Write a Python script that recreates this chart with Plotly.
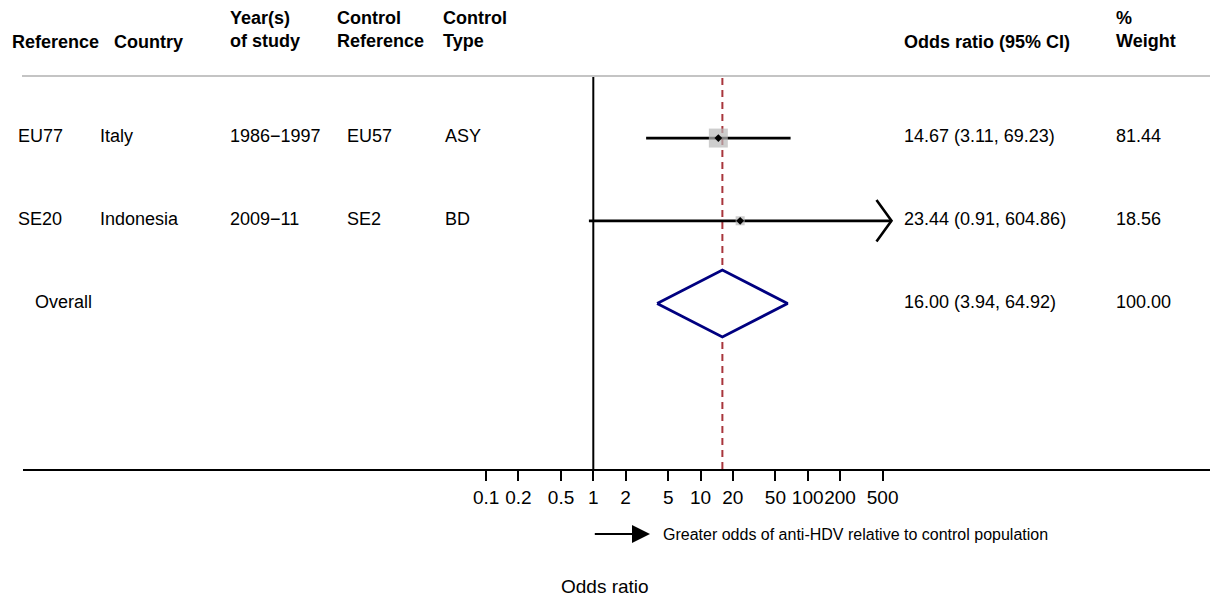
import math
import plotly.graph_objects as go

# ---- study rows ----
refs = ["EU77", "SE20"]
countries = ["Italy", "Indonesia"]
years = ["1986−1997", "2009−11"]
control_refs = ["EU57", "SE2"]
control_types = ["ASY", "BD"]
odds = [14.67, 23.44]
ci_low = [3.11, 0.91]
ci_high = [69.23, 604.86]
weights = [81.44, 18.56]

# ---- pooled estimate ----
overall_label = "Overall"
overall_or = 16.00
overall_low = 3.94
overall_high = 64.92
overall_weight = 100.00

# ---- axis ----
tick_vals = [0.1, 0.2, 0.5, 1, 2, 5, 10, 20, 50, 100, 200, 500]
tick_text = ["0.1", "0.2", "0.5", "1", "2", "5", "10", "20", "50", "100", "200", "500"]
axis_title = "Odds ratio"
direction_note = "Greater odds of anti-HDV relative to control population"

# column headers: (text, left edge in px)
headers = [
    ("Reference", 12), ("Country", 114), ("Year(s)<br>of study", 230),
    ("Control<br>Reference", 337), ("Control<br>Type", 443),
    ("Odds ratio (95% CI)", 904), ("%<br>Weight", 1116),
]

# ---- page geometry ----
W, H = 1210, 598
ML, MR, MT, MB = 23, 0, 76, 129
PX_PER_DECADE = 107.2
X_ONE_PX = 593.3          # where OR = 1 sits
TEXT_PAD = 2              # annotation border + padding
FONT = "Liberation Sans, Arial, Helvetica, sans-serif"
PLOT_W = W - ML - MR
PLOT_H = H - MT - MB


def xp(px):
    return (px - TEXT_PAD - ML) / PLOT_W


def yp(py):
    return (H - MB - py) / PLOT_H


x_range = [-(X_ONE_PX - ML) / PX_PER_DECADE, (W - MR - X_ONE_PX) / PX_PER_DECADE]
y_range = [5.0, 0.25]
rows = list(range(1, len(refs) + 1))
overall_row = len(refs) + 1

fig = go.Figure()

# confidence interval lines
for r, lo, hi in zip(rows, ci_low, ci_high):
    fig.add_trace(go.Scatter(x=[lo, hi], y=[r, r], mode="lines",
                             line=dict(color="black", width=2.8),
                             hoverinfo="skip", showlegend=False))
    # open arrow head when the interval runs past the last tick
    if hi > tick_vals[-1]:
        back = 10 ** (math.log10(hi) - 0.14)
        fig.add_trace(go.Scatter(x=[back, hi, back], y=[r - 0.25, r, r + 0.25],
                                 mode="lines", line=dict(color="black", width=2.6),
                                 hoverinfo="skip", showlegend=False))

# weight boxes
fig.add_trace(go.Scatter(
    x=odds, y=rows, mode="markers",
    marker=dict(symbol="square", color="#b8b8b8",
                size=[21 * math.sqrt(w / 100) for w in weights], line=dict(width=0)),
    hoverinfo="skip", showlegend=False))
# point estimates
fig.add_trace(go.Scatter(
    x=odds, y=rows, mode="markers",
    marker=dict(symbol="diamond", color="black", size=6, line=dict(width=0)),
    hoverinfo="skip", showlegend=False))

# pooled diamond
half_h = 0.405
fig.add_trace(go.Scatter(
    x=[overall_low, overall_or, overall_high, overall_or, overall_low],
    y=[overall_row, overall_row - half_h, overall_row, overall_row + half_h, overall_row],
    mode="lines", fill="toself", fillcolor="white",
    line=dict(color="#000080", width=2.8),
    hoverinfo="skip", showlegend=False))

# reference lines
fig.add_shape(type="line", xref="x", yref="paper", x0=1, x1=1, y0=0, y1=1,
              line=dict(color="black", width=2), layer="below")
fig.add_shape(type="line", xref="x", yref="paper", x0=overall_or, x1=overall_or, y0=0, y1=1,
              line=dict(color="#a8353c", width=2, dash="7px,5px"), layer="below")
fig.add_shape(type="line", xref="paper", yref="paper", x0=(22 - ML) / PLOT_W, x1=1, y0=1, y1=1,
              line=dict(color="#c4c4c4", width=2))

ann = []
# headers
for text, px in headers:
    two = "<br>" in text
    ann.append(dict(text=text, x=xp(px), y=yp(30 if two else 42), xref="paper", yref="paper",
                    xanchor="left", yanchor="middle", showarrow=False, align="left",
                    font=dict(family=FONT, size=18, color="black", weight="bold")))

body_font = dict(family=FONT, size=18, color="black")
# table body
cols = [(refs, 18), (countries, 100), (years, 230), (control_refs, 347), (control_types, 445)]
for values, px in cols:
    for r, v in zip(rows, values):
        ann.append(dict(text=v, x=xp(px), y=r, xref="paper", yref="y", xanchor="left",
                        yanchor="middle", showarrow=False, yshift=2, font=body_font))
for r, o, lo, hi, w in zip(rows, odds, ci_low, ci_high, weights):
    ann.append(dict(text=f"{o:.2f} ({lo:.2f}, {hi:.2f})", x=xp(904), y=r, xref="paper", yref="y",
                    xanchor="left", yanchor="middle", showarrow=False, yshift=2, font=body_font))
    ann.append(dict(text=f"{w:.2f}", x=xp(1116), y=r, xref="paper", yref="y",
                    xanchor="left", yanchor="middle", showarrow=False, yshift=2, font=body_font))
ann.append(dict(text=overall_label, x=xp(35), y=overall_row, xref="paper", yref="y",
                xanchor="left", yanchor="middle", showarrow=False, yshift=2, font=body_font))
ann.append(dict(text=f"{overall_or:.2f} ({overall_low:.2f}, {overall_high:.2f})", x=xp(904),
                y=overall_row, xref="paper", yref="y", xanchor="left", yanchor="middle",
                showarrow=False, yshift=2, font=body_font))
ann.append(dict(text=f"{overall_weight:.2f}", x=xp(1116), y=overall_row, xref="paper", yref="y",
                xanchor="left", yanchor="middle", showarrow=False, yshift=2, font=body_font))

# direction arrow and note (head at OR ~3.4, tail at OR = 1; log10 units on this axis)
ann.append(dict(text="", x=0.529, y=yp(534), xref="x", yref="paper",
                ax=0, ay=0, axref="x", ayref="pixel",
                showarrow=True, arrowhead=2, arrowwidth=2, arrowsize=1.8, arrowcolor="black"))
ann.append(dict(text=direction_note, x=xp(663), y=yp(534), xref="paper", yref="paper",
                xanchor="left", yanchor="middle", showarrow=False,
                font=dict(family=FONT, size=16, color="black")))
# axis title
ann.append(dict(text=axis_title, x=(605 - ML) / PLOT_W, y=yp(586), xref="paper", yref="paper",
                xanchor="center", yanchor="middle", showarrow=False,
                font=dict(family=FONT, size=19, color="black")))

fig.update_layout(
    width=W, height=H,
    margin=dict(l=ML, r=MR, t=MT, b=MB, pad=0),
    paper_bgcolor="white", plot_bgcolor="white",
    font=dict(family=FONT, color="black"),
    annotations=ann,
    xaxis=dict(type="log", range=x_range, tickvals=tick_vals, ticktext=tick_text,
               tickangle=0, showgrid=False, zeroline=False, showline=True, linecolor="black",
               linewidth=2, ticks="outside", ticklen=10, tickwidth=2, tickcolor="black",
               tickfont=dict(family=FONT, size=19, color="black"), fixedrange=True),
    yaxis=dict(range=y_range, visible=False, fixedrange=True),
)

fig.write_html("out.html", config={"displayModeBar": False})
